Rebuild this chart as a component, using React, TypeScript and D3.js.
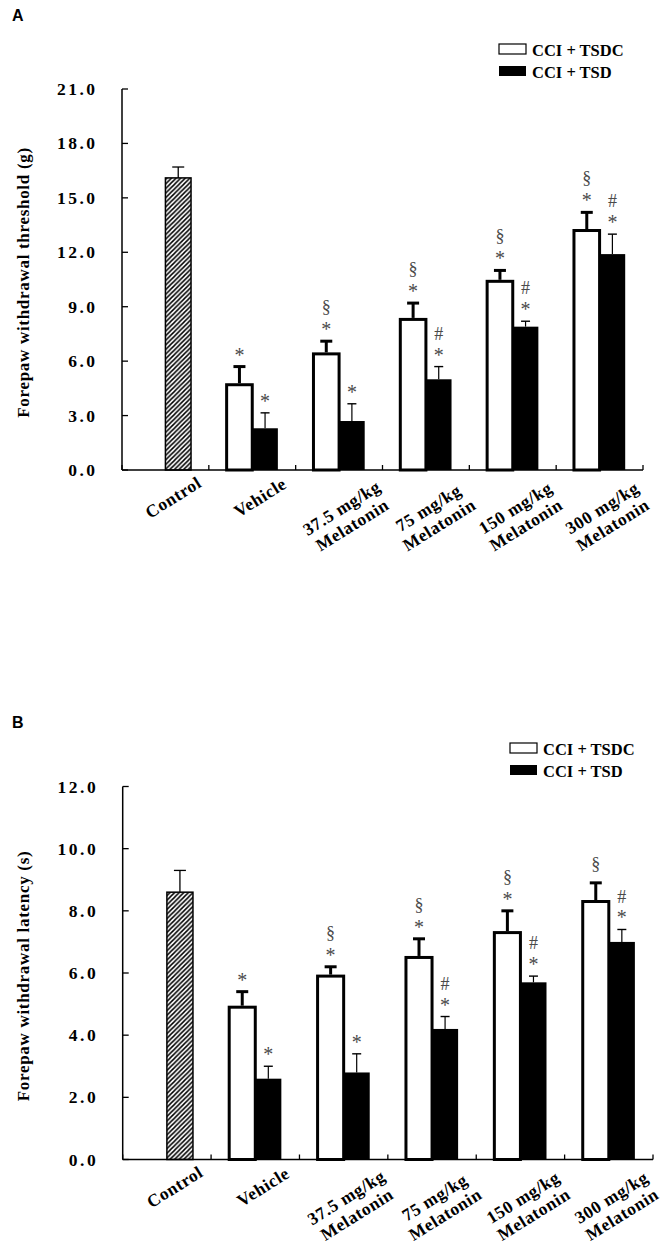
import React from 'react';
import * as d3 from 'd3';

// ---------- data ----------
const categories = [
  'Control',
  'Vehicle',
  '37.5 mg/kg Melatonin',
  '75 mg/kg Melatonin',
  '150 mg/kg Melatonin',
  '300 mg/kg Melatonin',
];
const categoryLines = [
  ['Control'],
  ['Vehicle'],
  ['37.5 mg/kg', 'Melatonin'],
  ['75 mg/kg', 'Melatonin'],
  ['150 mg/kg', 'Melatonin'],
  ['300 mg/kg', 'Melatonin'],
];
const seriesNames = ['CCI + TSDC', 'CCI + TSD'];

// Panel A: forepaw withdrawal threshold (g)
const controlA = 16.1;
const controlErrA = 0.6;
const tsdcA = [null, 4.7, 6.4, 8.3, 10.4, 13.2];
const tsdcErrA = [null, 1.0, 0.7, 0.9, 0.6, 1.0];
const tsdA = [null, 2.3, 2.7, 5.0, 7.9, 11.9];
const tsdErrA = [null, 0.85, 0.95, 0.7, 0.3, 1.1];
const tsdcMarksA = ['', '*', '§*', '§*', '§*', '§*'];
const tsdMarksA = ['', '*', '*', '#*', '#*', '#*'];
const ticksA = [0, 3, 6, 9, 12, 15, 18, 21];

// Panel B: forepaw withdrawal latency (s)
const controlB = 8.6;
const controlErrB = 0.7;
const tsdcB = [null, 4.9, 5.9, 6.5, 7.3, 8.3];
const tsdcErrB = [null, 0.5, 0.3, 0.6, 0.7, 0.6];
const tsdB = [null, 2.6, 2.8, 4.2, 5.7, 7.0];
const tsdErrB = [null, 0.4, 0.6, 0.4, 0.2, 0.4];
const tsdcMarksB = ['', '*', '§*', '§*', '§*', '§'];
const tsdMarksB = ['', '*', '*', '#*', '#*', '#*'];
const ticksB = [0, 2, 4, 6, 8, 10, 12];

// ---------- styling ----------
const SERIF = "'Liberation Serif', 'Times New Roman', serif";
const SANS = "'Liberation Sans', Arial, sans-serif";
const MARK_COLOR = '#4a4a4a';
// glyph vertical center above baseline (px) and font size
const markStyle: Record<string, { size: number; c: number }> = {
  '*': { size: 20, c: 10 },
  '§': { size: 18, c: 4.9 },
  '#': { size: 18, c: 6.1 },
};

type PanelProps = {
  id: string;
  letter: string;
  letterX: number;
  letterY: number;
  left: number;
  right: number;
  top: number;
  bottom: number;
  yMax: number;
  ticks: number[];
  title: string;
  titleX: number;
  control: number;
  controlErr: number;
  tsdc: (number | null)[];
  tsdcErr: (number | null)[];
  tsd: (number | null)[];
  tsdErr: (number | null)[];
  tsdcMarks: string[];
  tsdMarks: string[];
  legendX: number;
  legendY: number;
};

function Marks({ x, yTop, marks }: { x: number; yTop: number; marks: string }) {
  const chars = marks.split('');
  const n = chars.length;
  return (
    <g>
      {chars.map((ch, i) => {
        const level = n - 1 - i; // 0 = bottom
        const centerY = yTop - (level === 0 ? (ch === '*' ? 15 : 18) : 33);
        const st = markStyle[ch];
        return (
          <text
            key={i}
            x={x}
            y={centerY + st.c}
            textAnchor="middle"
            fontFamily={SERIF}
            fontSize={st.size}
            fill={MARK_COLOR}
          >
            {ch}
          </text>
        );
      })}
    </g>
  );
}

function Panel(p: PanelProps) {
  const x0 = d3.scaleBand<string>().domain(categories).range([p.left, p.right]).padding(0);
  const bw = x0.bandwidth();
  const x1 = d3
    .scaleBand<string>()
    .domain(seriesNames)
    .range([bw * 0.205, bw * 0.795])
    .padding(0);
  const barW = x1.bandwidth();
  const y = d3.scaleLinear().domain([0, p.yMax]).range([p.bottom, p.top]);
  const fmt = d3.format('.1f');
  const patId = `hatch-${p.id}`;

  const ctrlX = (x0(categories[0]) as number) + (x1(seriesNames[1]) as number);

  return (
    <g>
      <defs>
        <pattern id={patId} patternUnits="userSpaceOnUse" width={4.6} height={4.6}>
          <rect width={4.6} height={4.6} fill="white" />
          <path
            d="M-1,1 L1,-1 M0,4.6 L4.6,0 M3.6,5.6 L5.6,3.6"
            stroke="black"
            strokeWidth={1.5}
          />
        </pattern>
      </defs>

      {/* panel letter */}
      <text x={p.letterX} y={p.letterY} fontFamily={SANS} fontWeight="bold" fontSize={16}>
        {p.letter}
      </text>

      {/* legend */}
      <g>
        <rect x={p.legendX} y={p.legendY} width={27} height={10} fill="white" stroke="black" strokeWidth={1.2} />
        <rect x={p.legendX} y={p.legendY + 22} width={27} height={10} fill="black" />
        <text x={p.legendX + 33} y={p.legendY + 12} fontFamily={SERIF} fontWeight="bold" fontSize={16.5}>
          {seriesNames[0]}
        </text>
        <text x={p.legendX + 33} y={p.legendY + 34} fontFamily={SERIF} fontWeight="bold" fontSize={16.5}>
          {seriesNames[1]}
        </text>
      </g>

      {/* y title */}
      <text
        transform={`translate(${p.titleX},${(p.top + p.bottom) / 2 + 3}) rotate(-90)`}
        textAnchor="middle"
        fontFamily={SERIF}
        fontWeight="bold"
        fontSize={17}
        letterSpacing={0.7}
      >
        {p.title}
      </text>

      {/* control bar */}
      <rect
        x={ctrlX}
        y={y(p.control)}
        width={barW}
        height={p.bottom - y(p.control)}
        fill={`url(#${patId})`}
        stroke="black"
        strokeWidth={1.5}
      />
      <line x1={ctrlX + barW / 2} x2={ctrlX + barW / 2} y1={y(p.control)} y2={y(p.control + p.controlErr)} stroke="black" strokeWidth={1.3} />
      <line x1={ctrlX + barW / 2 - 6} x2={ctrlX + barW / 2 + 6} y1={y(p.control + p.controlErr)} y2={y(p.control + p.controlErr)} stroke="black" strokeWidth={1.3} />

      {/* treatment bars */}
      {categories.map((cat, i) => {
        if (i === 0) return null;
        const gx = x0(cat) as number;
        const wx = gx + (x1(seriesNames[0]) as number);
        const kx = gx + (x1(seriesNames[1]) as number);
        const wv = p.tsdc[i] as number;
        const we = p.tsdcErr[i] as number;
        const kv = p.tsd[i] as number;
        const ke = p.tsdErr[i] as number;
        return (
          <g key={cat}>
            <rect x={kx} y={y(kv)} width={barW} height={p.bottom - y(kv)} fill="black" />
            <rect x={wx} y={y(wv)} width={barW} height={p.bottom - y(wv)} fill="white" stroke="black" strokeWidth={3} />
            {/* error bars */}
            <line x1={wx + barW / 2} x2={wx + barW / 2} y1={y(wv) - 1.5} y2={y(wv + we)} stroke="black" strokeWidth={3} />
            <line x1={wx + barW / 2 - 6} x2={wx + barW / 2 + 6} y1={y(wv + we)} y2={y(wv + we)} stroke="black" strokeWidth={3} />
            <line x1={kx + barW / 2} x2={kx + barW / 2} y1={y(kv)} y2={y(kv + ke)} stroke="black" strokeWidth={1.2} />
            <line x1={kx + barW / 2 - 4.5} x2={kx + barW / 2 + 4.5} y1={y(kv + ke)} y2={y(kv + ke)} stroke="black" strokeWidth={1.4} />
            <Marks x={wx + barW / 2} yTop={y(wv + we)} marks={p.tsdcMarks[i]} />
            <Marks x={kx + barW / 2} yTop={y(kv + ke)} marks={p.tsdMarks[i]} />
          </g>
        );
      })}

      {/* y axis */}
      <line x1={p.left} x2={p.left} y1={p.top} y2={p.bottom} stroke="black" strokeWidth={1.5} />
      {p.ticks.map((t) => (
        <g key={t}>
          <line x1={p.left} x2={p.left + 6} y1={y(t)} y2={y(t)} stroke="black" strokeWidth={1.3} />
          <text
            x={p.left - 24.5}
            y={y(t) + 6}
            textAnchor="end"
            fontFamily={SERIF}
            fontWeight="bold"
            fontSize={17.5}
            letterSpacing={2.5}
          >
            {fmt(t)}
          </text>
        </g>
      ))}

      {/* x axis */}
      <line x1={p.left} x2={p.right} y1={p.bottom} y2={p.bottom} stroke="black" strokeWidth={1.5} />
      {[...categories.map((c) => x0(c) as number), p.right].map((tx, i) => (
        <line key={i} x1={tx} x2={tx} y1={p.bottom} y2={p.bottom - 5} stroke="black" strokeWidth={1.3} />
      ))}
      {categories.map((cat, i) => {
        const lines = categoryLines[i];
        const n = lines.length;
        const cx = (x0(cat) as number) + bw / 2 + 8;
        const cy = p.bottom + 27.5 + (n - 1) * 19;
        return (
          <g key={cat} transform={`translate(${cx},${cy}) rotate(-32)`}>
            {lines.map((ln, j) => (
              <text
                key={j}
                x={0}
                y={(j - (n - 1) / 2) * 20}
                dy="0.33em"
                textAnchor="middle"
                fontFamily={SERIF}
                fontWeight="bold"
                fontSize={17.5}
                letterSpacing={0.6}
              >
                {ln}
              </text>
            ))}
          </g>
        );
      })}
    </g>
  );
}

export default function App() {
  return (
    <svg
      width={661}
      height={1245}
      viewBox="0 0 661 1245"
      style={{ position: 'absolute', left: 0, top: 0, background: 'white' }}
    >
      <rect width={661} height={1245} fill="white" />
      <Panel
        id="a"
        letter="A"
        letterX={12}
        letterY={21}
        left={122}
        right={643}
        top={89}
        bottom={470}
        yMax={21}
        ticks={ticksA}
        title="Forepaw withdrawal threshold (g)"
        titleX={28.5}
        control={controlA}
        controlErr={controlErrA}
        tsdc={tsdcA}
        tsdcErr={tsdcErrA}
        tsd={tsdA}
        tsdErr={tsdErrA}
        tsdcMarks={tsdcMarksA}
        tsdMarks={tsdMarksA}
        legendX={499}
        legendY={44}
      />
      <Panel
        id="b"
        letter="B"
        letterX={12}
        letterY={728}
        left={122.7}
        right={653}
        top={786.5}
        bottom={1159.5}
        yMax={12}
        ticks={ticksB}
        title="Forepaw withdrawal latency (s)"
        titleX={28.5}
        control={controlB}
        controlErr={controlErrB}
        tsdc={tsdcB}
        tsdcErr={tsdcErrB}
        tsd={tsdB}
        tsdErr={tsdErrB}
        tsdcMarks={tsdcMarksB}
        tsdMarks={tsdMarksB}
        legendX={510}
        legendY={743}
      />
    </svg>
  );
}
